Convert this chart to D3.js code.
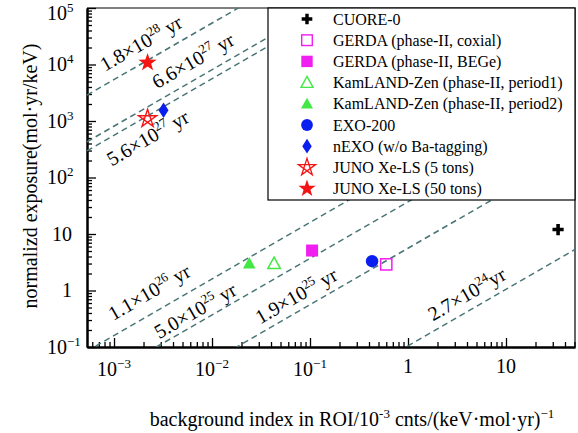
<!DOCTYPE html>
<html>
<head>
<meta charset="utf-8">
<script src="https://cdn.jsdelivr.net/npm/d3@7"></script>
<style>
  body { margin: 0; background: #fff; }
  text { font-family: "Liberation Serif", "Times New Roman", serif; fill: #000; }
</style>
</head>
<body>
<div id="chart"></div>
<script>
// experiments and their points
const experiments = [
  "CUORE-0",
  "GERDA (phase-II, coxial)",
  "GERDA (phase-II, BEGe)",
  "KamLAND-Zen (phase-II, period1)",
  "KamLAND-Zen (phase-II, period2)",
  "EXO-200",
  "nEXO (w/o Ba-tagging)",
  "JUNO Xe-LS (5 tons)",
  "JUNO Xe-LS (50 tons)"
];
const bkgIndex = [34, 0.6, 0.105, 0.043, 0.024, 0.43, 0.0032, 0.0022, 0.0022];
const exposure = [12, 2.9, 5.1, 3.0, 3.0, 3.3, 1550, 1100, 10800];
const markerType = ["plus", "squareOpen", "square", "triangleOpen", "triangle", "circle", "diamond", "starOpen", "star"];
const markerColor = ["#000", "#f01ef0", "#f01ef0", "#44e844", "#44e844", "#0a1ef0", "#0a1ef0", "#f51414", "#f51414"];

// half-life sensitivity lines: exposure = coef * background index
const halfLifeMant = ["1.8", "6.6", "5.6", "1.1", "5.0", "1.9", "2.7"];
const halfLifeExp = ["28", "27", "27", "26", "25", "25", "24"];
const halfLifeUnit = [" yr", " yr", " yr", " yr", " yr", " yr", "yr"];
const lineCoef = [5.4e6, 8.1e5, 5.6e5, 160, 37, 5.6, 0.105];

// where each label starts along its line (background index) and its vertical gap to the line
const labelStartX = [8.1e-4, 2.75e-3, 9.5e-4, 9.8e-4, 2.9e-3, 0.031, 1.8];
const labelOffset = [13, 12, -30, 15, 6, 9, 10];

const xTickVals = [1e-3, 1e-2, 1e-1, 1, 10];
const xTickLabels = [["10", "−3"], ["10", "−2"], ["10", "−1"], ["1", ""], ["10", ""]];
const yTickVals = [0.1, 1, 10, 100, 1e3, 1e4, 1e5];
const yTickLabels = [["10", "−1"], ["1", ""], ["10", ""], ["10", "2"], ["10", "3"], ["10", "4"], ["10", "5"]];

const svgWidth = 578;
const svgHeight = 433;
const margin = { top: 8, right: 3, bottom: 86, left: 87 };
const width = svgWidth - margin.left - margin.right;
const height = svgHeight - margin.top - margin.bottom;

const svg = d3.select("#chart")
  .append("svg")
  .attr("width", svgWidth)
  .attr("height", svgHeight);

const chartGroup = svg.append("g")
  .attr("transform", `translate(${margin.left}, ${margin.top})`);

const xScale = d3.scaleLog().domain([5.3e-4, 50.6]).range([0, width]);
const yScale = d3.scaleLog().domain([0.1, 1e5]).range([height, 0]);

chartGroup.append("clipPath").attr("id", "plotClip")
  .append("rect").attr("width", width).attr("height", height);

// frame (top and right)
chartGroup.append("path")
  .attr("d", `M0,0H${width}V${height}`)
  .attr("fill", "none")
  .attr("stroke", "#000")
  .attr("stroke-width", 1.2);

// axes with inward ticks, minor and major
const isMajor = v => Math.abs(Math.log10(v) - Math.round(Math.log10(v))) < 1e-9;
const xMinor = xScale.ticks().filter(v => !isMajor(v));
const yMinor = yScale.ticks().filter(v => !isMajor(v));

function styleAxis(g) {
  g.selectAll("text").remove();
  g.select(".domain").attr("stroke-width", 2);
  g.selectAll(".tick line").attr("stroke-width", 1.3);
}

chartGroup.append("g")
  .attr("transform", `translate(0, ${height})`)
  .call(d3.axisBottom(xScale).tickValues(xMinor).tickSizeInner(-5).tickSizeOuter(0))
  .call(styleAxis);
chartGroup.append("g")
  .attr("transform", `translate(0, ${height})`)
  .call(d3.axisBottom(xScale).tickValues(xTickVals).tickSizeInner(-9).tickSizeOuter(0))
  .call(styleAxis);
chartGroup.append("g")
  .call(d3.axisLeft(yScale).tickValues(yMinor).tickSizeInner(-5).tickSizeOuter(0))
  .call(styleAxis);
chartGroup.append("g")
  .call(d3.axisLeft(yScale).tickValues(yTickVals).tickSizeInner(-9).tickSizeOuter(0))
  .call(styleAxis);

// tick labels with superscripts
xTickVals.forEach((v, i) => {
  const lab = xTickLabels[i];
  const t = chartGroup.append("text")
    .attr("x", xScale(v))
    .attr("y", height + (lab[1] ? 29 : 26))
    .attr("text-anchor", "middle")
    .style("font-size", "20px");
  t.append("tspan").text(lab[0]);
  if (lab[1]) {
    t.append("tspan").attr("dy", -8).style("font-size", "13px").text(lab[1]);
  }
});

yTickVals.forEach((v, i) => {
  const lab = yTickLabels[i];
  const t = chartGroup.append("text")
    .attr("y", Math.max(yScale(v), 5))
    .attr("dy", "0.33em")
    .style("font-size", "20px");
  if (lab[1]) {
    t.attr("x", -40).attr("text-anchor", "start");
    t.append("tspan").text(lab[0]);
    t.append("tspan").attr("dy", -8).style("font-size", "13px").text(lab[1]);
  } else {
    t.attr("x", -15).attr("text-anchor", "end").text(lab[0]);
  }
});

// axis titles
const xTitle = svg.append("text")
  .attr("x", 352)
  .attr("y", 426)
  .attr("text-anchor", "middle")
  .style("font-size", "20px");
xTitle.append("tspan").text("background index in ROI/10");
xTitle.append("tspan").attr("dy", -8).style("font-size", "13px").text("-3");
xTitle.append("tspan").attr("dy", 8).text(" cnts/(keV·mol·yr)");
xTitle.append("tspan").attr("dy", -8).style("font-size", "13px").text("−1");

svg.append("text")
  .attr("transform", "translate(37, 176) rotate(-90)")
  .attr("text-anchor", "middle")
  .style("font-size", "20px")
  .text("normalizd exposure(mol·yr/keV)");

// dashed half-life lines
const lineGroup = chartGroup.append("g").attr("clip-path", "url(#plotClip)");
const xDom = xScale.domain();
const line = d3.line().x(d => xScale(d[0])).y(d => yScale(d[1]));
lineCoef.forEach(c => {
  lineGroup.append("path")
    .attr("d", line([[xDom[0], c * xDom[0]], [xDom[1], c * xDom[1]]]))
    .attr("fill", "none")
    .attr("stroke", "#4a7575")
    .attr("stroke-width", 1.5)
    .attr("stroke-dasharray", "6,4");
});

// line labels, rotated along the lines
const angle = Math.atan2(yScale(10) - yScale(1), xScale(10) - xScale(1)) * 180 / Math.PI;
lineCoef.forEach((c, i) => {
  const bx = xScale(labelStartX[i]);
  const by = yScale(c * labelStartX[i]) - labelOffset[i];
  const t = chartGroup.append("text")
    .attr("transform", `translate(${bx}, ${by}) rotate(${angle})`)
    .style("font-size", "20px");
  t.append("tspan").text(halfLifeMant[i] + "×10");
  t.append("tspan").attr("dy", -8).style("font-size", "13px").text(halfLifeExp[i]);
  t.append("tspan").attr("dy", 8).text(halfLifeUnit[i]);
});

// markers
function starPoints(R) {
  const pts = [];
  for (let k = 0; k < 10; k++) {
    const r = k % 2 === 0 ? R : R * 0.4;
    const a = -Math.PI / 2 + k * Math.PI / 5;
    pts.push([r * Math.cos(a), r * Math.sin(a)]);
  }
  return pts;
}

function drawMarker(g, type, color, cx, cy, s) {
  const m = g.append("g").attr("transform", `translate(${cx}, ${cy}) scale(${s})`);
  if (type === "plus") {
    m.append("path")
      .attr("d", "M-1.8,-5.6h3.6v3.8h3.8v3.6h-3.8v3.8h-3.6v-3.8h-3.8v-3.6h3.8z")
      .attr("fill", color);
  } else if (type === "square" || type === "squareOpen") {
    const open = type === "squareOpen";
    m.append("rect")
      .attr("x", open ? -5.6 : -6).attr("y", open ? -5.6 : -6)
      .attr("width", open ? 11.2 : 12).attr("height", open ? 11.2 : 12)
      .attr("fill", open ? "none" : color)
      .attr("stroke", open ? color : "none")
      .attr("stroke-width", 1.5);
  } else if (type === "triangle" || type === "triangleOpen") {
    const open = type === "triangleOpen";
    m.append("path")
      .attr("d", "M0,-6.5L6.3,5L-6.3,5Z")
      .attr("fill", open ? "none" : color)
      .attr("stroke", open ? color : "none")
      .attr("stroke-width", 1.5);
  } else if (type === "circle") {
    m.append("circle").attr("r", 6.2).attr("fill", color);
  } else if (type === "diamond") {
    m.append("path").attr("d", "M0,-7.8L5,0L0,7.8L-5,0Z").attr("fill", color);
  } else if (type === "star") {
    m.append("path")
      .attr("d", "M" + starPoints(9.5).join("L") + "Z")
      .attr("fill", color);
  } else if (type === "starOpen") {
    const outer = starPoints(9.5).filter((p, k) => k % 2 === 0);
    const order = [0, 2, 4, 1, 3];
    m.append("path")
      .attr("d", "M" + order.map(k => outer[k]).join("L") + "Z")
      .attr("fill", "none")
      .attr("stroke", color)
      .attr("stroke-width", 1.4);
  }
}

const pointGroup = chartGroup.append("g");
experiments.forEach((name, i) => {
  drawMarker(pointGroup, markerType[i], markerColor[i], xScale(bkgIndex[i]), yScale(exposure[i]), 1);
});

// legend
const legend = svg.append("g");
legend.append("rect")
  .attr("x", 268).attr("y", 8)
  .attr("width", 307).attr("height", 192)
  .attr("fill", "#fff")
  .attr("stroke", "#000")
  .attr("stroke-width", 1.2);

experiments.forEach((name, i) => {
  const ly = 19 + i * 21.2;
  drawMarker(legend, markerType[i], markerColor[i], 307, ly, 0.95);
  legend.append("text")
    .attr("x", 333)
    .attr("y", ly)
    .attr("dy", "0.35em")
    .style("font-size", "16px")
    .text(name);
});
</script>
</body>
</html>
